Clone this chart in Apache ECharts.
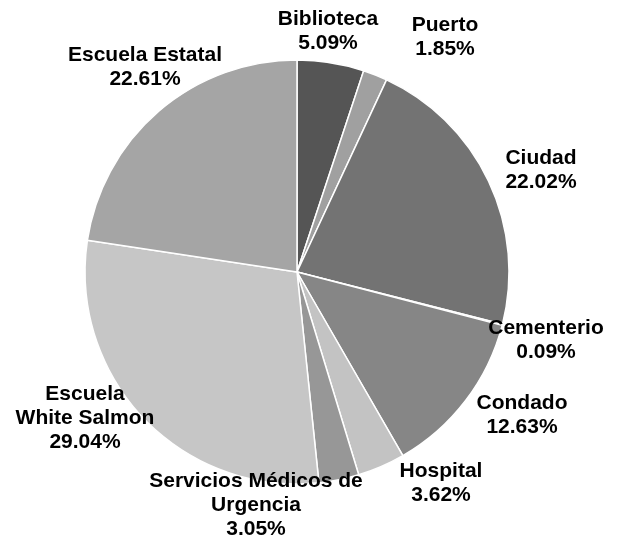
<!DOCTYPE html>
<html>
<head>
<meta charset="utf-8">
<title>Pie</title>
<script src="https://cdn.jsdelivr.net/npm/echarts@6/dist/echarts.min.js"></script>
<style>
  html, body { margin: 0; padding: 0; background: #fff; }
  #main { width: 617px; height: 539px; }
</style>
</head>
<body>
<div id="main"></div>
<script>
// datos (porcentajes)
var categories = ['Biblioteca', 'Puerto', 'Ciudad', 'Cementerio', 'Condado', 'Hospital',
    'Servicios Médicos de\nUrgencia', 'Escuela\nWhite Salmon', 'Escuela Estatal'];
var values = [5.09, 1.85, 22.02, 0.09, 12.63, 3.62, 3.05, 29.04, 22.61];

// estilo
var colors = ['#555555', '#a0a0a0', '#737373', '#5e5e5e', '#868686', '#c3c3c3', '#979797', '#c6c6c6', '#a5a5a5'];
// posición de cada etiqueta (centro del bloque de texto)
var labelPos = [[328, 31], [445, 37], [541, 170], [546, 340], [522, 415],
    [441, 483], [256, 505], [85, 418], [145, 67]];

var myChart = echarts.init(document.getElementById('main'));

var list = [];
for (var i = 0; i < categories.length; i++) {
    list.push({ name: categories[i], value: values[i], itemStyle: { color: colors[i] } });
}

var option = {
    animation: false,
    series: [
        {
            type: 'pie',
            center: [297, 272],
            radius: 212,
            startAngle: 90,
            clockwise: true,
            percentPrecision: 2,
            avoidLabelOverlap: false,
            data: list,
            itemStyle: {
                borderColor: '#ffffff',
                borderWidth: 1.5
            },
            label: {
                show: true,
                position: 'outside',
                formatter: '{b}\n{d}%',
                fontFamily: 'Liberation Sans, Arial, sans-serif',
                fontWeight: 'bold',
                fontSize: 21,
                lineHeight: 24,
                color: '#000000',
                align: 'center'
            },
            labelLine: { show: false },
            labelLayout: function (params) {
                var p = labelPos[params.dataIndex];
                return { x: p[0], y: p[1], align: 'center', verticalAlign: 'middle' };
            }
        }
    ]
};
myChart.setOption(option);
</script>
</body>
</html>
